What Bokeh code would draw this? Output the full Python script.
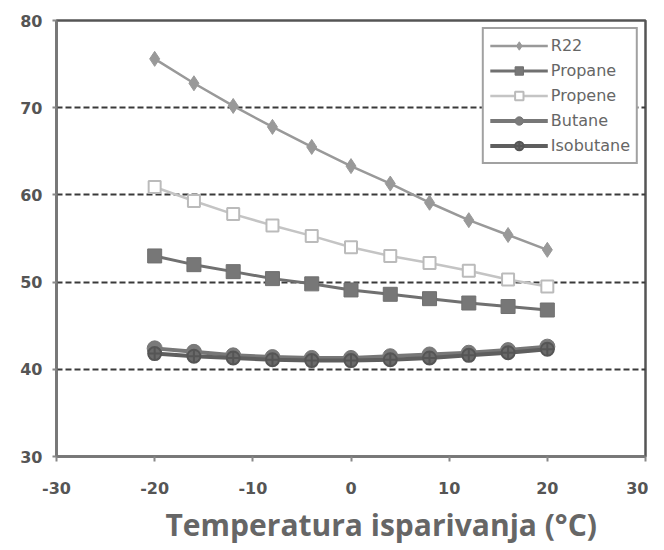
from bokeh.plotting import figure
from bokeh.models import FixedTicker, Range1d, Legend, LegendItem, CustomJSTickFormatter, Title
from bokeh.embed import file_html
from bokeh.resources import INLINE

temps = [-20, -16, -12, -8, -4, 0, 4, 8, 12, 16, 20]
r22 = [75.6, 72.8, 70.2, 67.8, 65.5, 63.3, 61.3, 59.1, 57.1, 55.4, 53.7]
propane = [53.0, 52.0, 51.2, 50.4, 49.8, 49.1, 48.6, 48.1, 47.6, 47.2, 46.8]
propene = [60.9, 59.3, 57.8, 56.5, 55.3, 54.0, 53.0, 52.2, 51.3, 50.3, 49.5]
butane = [42.4, 42.0, 41.6, 41.4, 41.3, 41.3, 41.5, 41.7, 41.9, 42.2, 42.6]
isobutane = [41.8, 41.5, 41.3, 41.1, 41.0, 41.0, 41.1, 41.3, 41.6, 41.9, 42.3]
x_ticks = [-30, -20, -10, 0, 10, 20, 30]
y_ticks = [30, 40, 50, 60, 70, 80]
grid_ticks = [40, 50, 60, 70]
x_title = "Temperatura isparivanja (°C)"

p = figure(width=648, height=550, output_backend="svg", toolbar_location=None,
           x_range=Range1d(-30, 30), y_range=Range1d(30, 80))
p.frame_width = 589
p.frame_height = 436
p.min_border_left = 56
p.min_border_top = 20
p.min_border_right = 3
p.min_border_bottom = 94
p.background_fill_color = "white"
p.border_fill_color = "white"
p.outline_line_color = "#555555"
p.outline_line_width = 2.5

p.xgrid.grid_line_color = None
p.ygrid.ticker = FixedTicker(ticks=grid_ticks)
p.ygrid.grid_line_color = "#3a3a3a"
p.ygrid.grid_line_width = 2.2
p.ygrid.grid_line_dash = "6 3"

fmt = CustomJSTickFormatter(code="return tick.toString();")
p.xaxis.ticker = FixedTicker(ticks=x_ticks)
p.yaxis.ticker = FixedTicker(ticks=y_ticks)
for ax in (p.xaxis[0], p.yaxis[0]):
    ax.formatter = fmt
    ax.axis_line_color = "#777777"
    ax.axis_line_width = 2.5
    ax.major_tick_line_color = "#888888"
    ax.major_tick_line_width = 2
    ax.minor_tick_line_color = None
    ax.major_label_text_font = "DejaVu Sans"
    ax.major_label_text_font_style = "bold"
    ax.major_label_text_font_size = "16px"
    ax.major_label_text_color = "#555555"
p.xaxis.major_tick_in = 0
p.xaxis.major_tick_out = 5
p.xaxis.major_label_standoff = 20
p.yaxis.major_tick_in = 0
p.yaxis.major_tick_out = 4
p.yaxis.major_label_standoff = 10

title = Title(text=x_title, align="left", offset=109, standoff=10,
              text_font="Open Sans", text_font_style="bold", text_font_size="30px",
              text_color="#666666")
p.add_layout(title, "below")

items = []
l1 = p.line(temps, r22, line_color="#999999", line_width=2.5)
m1 = p.scatter(temps, r22, marker="diamond", size=15, fill_color="#999999", line_color="#999999")
items.append(LegendItem(label="R22", renderers=[l1, m1]))

l2 = p.line(temps, propane, line_color="#707070", line_width=3)
m2 = p.scatter(temps, propane, marker="square", size=14, fill_color="#777777", line_color="#707070")
items.append(LegendItem(label="Propane", renderers=[l2, m2]))

l3 = p.line(temps, propene, line_color="#c4c4c4", line_width=2.5)
m3 = p.scatter(temps, propene, marker="square", size=12, fill_color="white", line_color="#bbbbbb", line_width=2)
items.append(LegendItem(label="Propene", renderers=[l3, m3]))

l4 = p.line(temps, butane, line_color="#777777", line_width=4)
m4 = p.scatter(temps, butane, marker="circle", size=15, fill_color="#7a7a7a", line_color="#777777")
items.append(LegendItem(label="Butane", renderers=[l4, m4]))

l5 = p.line(temps, isobutane, line_color="#5e5e5e", line_width=4)
m5 = p.scatter(temps, isobutane, marker="circle_cross", size=13, fill_color="#6a6a6a", line_color="#555555", line_width=2)
items.append(LegendItem(label="Isobutane", renderers=[l5, m5]))

legend = Legend(items=items, location="top_right")
legend.margin = 7
legend.padding = 6
legend.spacing = 4
legend.glyph_width = 58
legend.glyph_height = 21
legend.label_height = 21
legend.label_standoff = 3
legend.label_text_font = "DejaVu Sans"
legend.label_text_font_size = "16px"
legend.label_text_color = "#666666"
legend.border_line_color = "#444444"
legend.border_line_width = 2
legend.background_fill_color = "white"
legend.background_fill_alpha = 1
p.add_layout(legend)

open("out.html", "w").write(file_html(p, INLINE))
